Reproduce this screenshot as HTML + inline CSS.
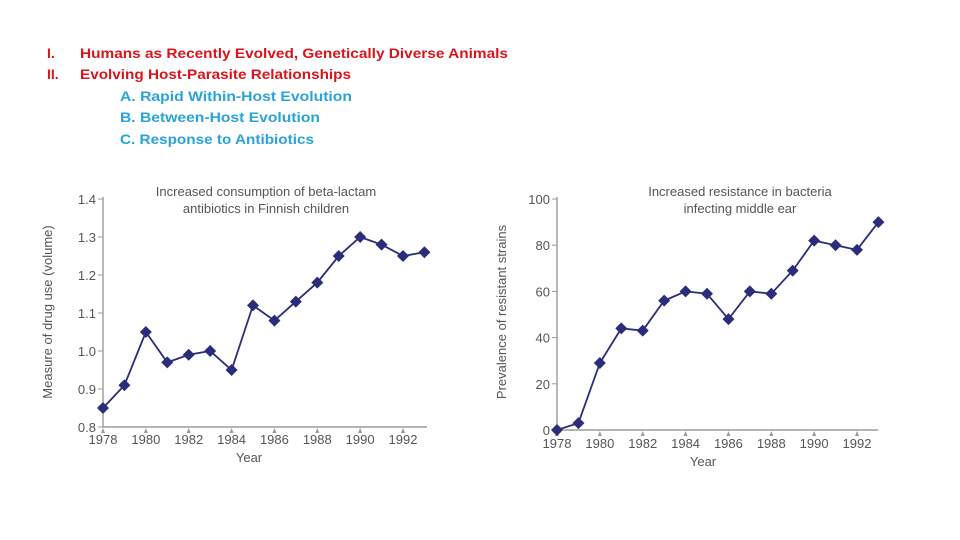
<!DOCTYPE html>
<html><head><meta charset="utf-8"><style>
body{margin:0;background:#fff;}
svg{display:block;font-family:"Liberation Sans",sans-serif;}
.t{font-size:13px;fill:#555;}
.h{font-weight:bold;font-size:14px;}
</style></head><body>
<svg id="s" width="960" height="540">
<g>
<text class="h" x="47" y="58" fill="#d9141b">I.</text>
<text class="h" x="80" y="58" fill="#d9141b" textLength="428" lengthAdjust="spacingAndGlyphs">Humans as Recently Evolved, Genetically Diverse Animals</text>
<text class="h" x="47" y="79" fill="#d9141b">II.</text>
<text class="h" x="80" y="79" fill="#d9141b" textLength="271" lengthAdjust="spacingAndGlyphs">Evolving Host-Parasite Relationships</text>
<text class="h" x="120" y="101" fill="#2aa3d8" textLength="232" lengthAdjust="spacingAndGlyphs">A. Rapid Within-Host Evolution</text>
<text class="h" x="120" y="122" fill="#2aa3d8" textLength="200" lengthAdjust="spacingAndGlyphs">B. Between-Host Evolution</text>
<text class="h" x="120" y="144" fill="#2aa3d8" textLength="194" lengthAdjust="spacingAndGlyphs">C. Response to Antibiotics</text>
</g>
</svg>
<script>
const years=[1978,1979,1980,1981,1982,1983,1984,1985,1986,1987,1988,1989,1990,1991,1992,1993];
const xTicks=[1978,1980,1982,1984,1986,1988,1990,1992];
const drugUse=[0.85,0.91,1.05,0.97,0.99,1.00,0.95,1.12,1.08,1.13,1.18,1.25,1.30,1.28,1.25,1.26];
const drugTicks=[0.8,0.9,1.0,1.1,1.2,1.3,1.4];
const resistance=[0,3,29,44,43,56,60,59,48,60,59,69,82,80,78,90];
const resTicks=[0,20,40,60,80,100];
const NS="http://www.w3.org/2000/svg";
const svg=document.getElementById('s');
function mk(tag,attrs,parent){const e=document.createElementNS(NS,tag);for(const k in attrs)e.setAttribute(k,attrs[k]);(parent||svg).appendChild(e);return e;}
function chart(cfg){
 const g=mk('g',{});
 
 
 const X=y=>cfg.x0+(y-1978)*(cfg.x1-cfg.x0)/14;
 const Y=v=>cfg.y0-(v-cfg.vmin)*(cfg.y0-cfg.y1)/(cfg.vmax-cfg.vmin);
 const ax=mk('path',{d:`M${cfg.x0} ${cfg.y1-2}V${cfg.y0}H${cfg.xe}`,stroke:'#888',fill:'none','stroke-width':1.2},g);
 
 
 cfg.ticks.forEach(v=>{
  mk('line',{x1:cfg.x0-5,x2:cfg.x0,y1:Y(v),y2:Y(v),stroke:'#999'},g);
  const t=mk('text',{x:cfg.x0-7,y:Y(v)+5,'text-anchor':'end',class:'t'},g);
  
  
  t.textContent=cfg.fmt(v);
 });
 xTicks.forEach(yr=>{
  const x=X(yr);
  mk('path',{d:`M${x-2} ${cfg.y0+6}L${x+2} ${cfg.y0+6}L${x} ${cfg.y0+1}Z`,fill:'#999'},g);
  const t=mk('text',{x:x,y:cfg.y0+cfg.lab,'text-anchor':'middle',class:'t'},g);
  
  
  t.textContent=yr;
 });
 const yt=mk('text',{x:X(1978)+ (cfg.x1-cfg.x0)/2-4,y:cfg.y0+cfg.lab+18,'text-anchor':'middle',class:'t'},g);
 
 
 yt.textContent='Year';
 const ya=mk('text',{transform:`translate(${cfg.ytx},312) rotate(-90)`,'text-anchor':'middle',class:'t'},g);
 
 
 ya.textContent=cfg.ytitle;
 cfg.title.forEach((s,i)=>{
  const tt=mk('text',{x:cfg.tx,y:196+i*17,'text-anchor':'middle',class:'t'},g);
  
  
  tt.textContent=s;
 });
 const ln=mk('polyline',{points:cfg.data.map((v,i)=>X(years[i])+','+Y(v)).join(' '),fill:'none',stroke:'#2b2d7a','stroke-width':1.8},g);
 
 
 cfg.data.forEach((v,i)=>{
  const x=X(years[i]),y=Y(v);
  const m=mk('path',{d:`M${x} ${y-6}L${x+6} ${y}L${x} ${y+6}L${x-6} ${y}Z`,fill:'#2b2d7a'},g);
  
  
 });
}
chart({name:'drug-use-chart',x0:103,x1:403,xe:427,y0:427,y1:199,vmin:0.8,vmax:1.4,ticks:drugTicks,data:drugUse,fmt:v=>v.toFixed(1),lab:17,ytx:52,ytitle:'Measure of drug use (volume)',tx:266,title:['Increased consumption of beta-lactam','antibiotics in Finnish children']});
chart({name:'resistance-chart',x0:557,x1:857,xe:878,y0:430,y1:199,vmin:0,vmax:100,ticks:resTicks,data:resistance,fmt:v=>String(v),lab:18,ytx:506,ytitle:'Prevalence of resistant strains',tx:740,title:['Increased resistance in bacteria','infecting middle ear']});
</script>
</body></html>
